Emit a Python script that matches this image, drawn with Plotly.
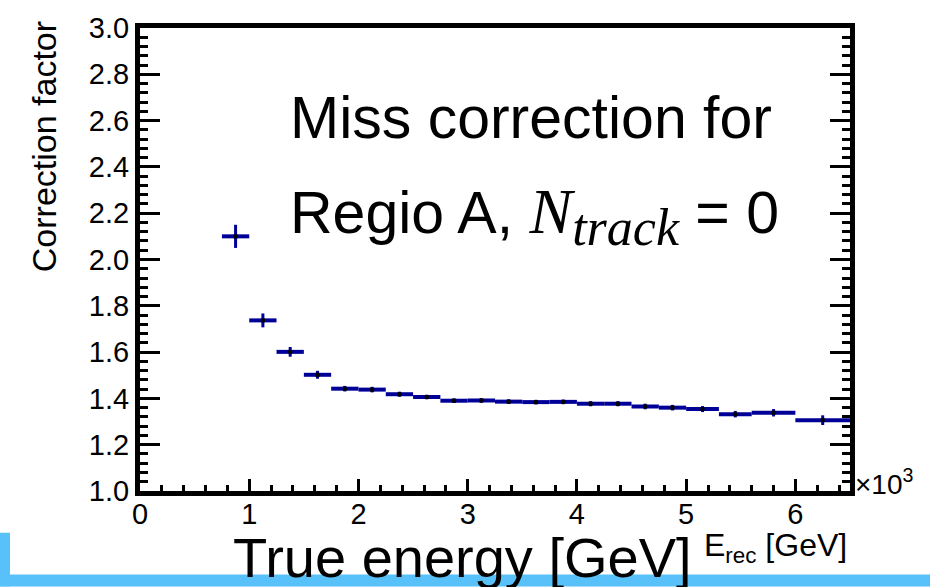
import plotly.graph_objects as go

# Reconstructed-energy bins (units of 10^3 GeV) and the fitted correction factor per bin
bin_low = [0.75, 1.00, 1.25, 1.50, 1.75, 2.00, 2.25, 2.50, 2.75, 3.00, 3.25,
           3.50, 3.75, 4.00, 4.25, 4.50, 4.75, 5.00, 5.30, 5.60, 6.00]
bin_high = [1.00, 1.25, 1.50, 1.75, 2.00, 2.25, 2.50, 2.75, 3.00, 3.25, 3.50,
            3.75, 4.00, 4.25, 4.50, 4.75, 5.00, 5.30, 5.60, 6.00, 6.50]
correction = [2.100, 1.737, 1.601, 1.502, 1.442, 1.438, 1.418, 1.406, 1.390,
              1.391, 1.386, 1.384, 1.385, 1.377, 1.377, 1.365, 1.360, 1.354,
              1.332, 1.338, 1.306]
correction_err = [0.050, 0.030, 0.021, 0.017, 0.012, 0.012, 0.011, 0.010,
                  0.010, 0.010, 0.010, 0.010, 0.010, 0.011, 0.011, 0.012,
                  0.012, 0.013, 0.014, 0.016, 0.021]

x_ticks = [0, 1, 2, 3, 4, 5, 6]
x_tick_text = ["0", "1", "2", "3", "4", "5", "6"]

centers = [(a + b) / 2 for a, b in zip(bin_low, bin_high)]
half_widths = [(b - a) / 2 for a, b in zip(bin_low, bin_high)]

W, H = 930, 587
L, R, T, B = 140, 80, 25, 96

SANS = "Liberation Sans, Arial, Helvetica, sans-serif"
BLUE = "#000099"


def px_x(p):
    return (p - L) / (W - L - R)


def px_y(p):
    return (H - B - p) / (H - T - B)


fig = go.Figure()
fig.add_trace(go.Scatter(
    x=centers,
    y=correction,
    mode="markers",
    marker=dict(symbol="square", size=4, color="black"),
    error_x=dict(type="data", array=half_widths, symmetric=True,
                 color=BLUE, thickness=4, width=0),
    error_y=dict(type="data", array=correction_err, symmetric=True,
                 color=BLUE, thickness=3, width=0),
    showlegend=False,
    hoverinfo="x+y",
))

fig.update_xaxes(
    range=[0, 6.5],
    tickvals=x_ticks,
    ticktext=x_tick_text,
    ticks="inside",
    ticklen=12,
    tickwidth=3,
    tickcolor="black",
    minor=dict(dtick=0.2, ticks="inside", ticklen=6, tickwidth=3,
               tickcolor="black"),
    showline=True,
    linewidth=5,
    linecolor="black",
    mirror=True,
    showgrid=False,
    zeroline=False,
    ticklabelstandoff=-7,
    tickfont=dict(family=SANS, size=29, color="black"),
)
fig.update_yaxes(
    range=[1.0, 3.0],
    dtick=0.2,
    tick0=1.0,
    tickformat=".1f",
    ticks="inside",
    ticklen=20,
    tickwidth=3,
    tickcolor="black",
    minor=dict(dtick=0.04, ticks="inside", ticklen=8, tickwidth=3,
               tickcolor="black"),
    showline=True,
    linewidth=5,
    linecolor="black",
    mirror="allticks",
    showgrid=False,
    zeroline=False,
    tickfont=dict(family=SANS, size=29, color="black"),
)

annotations = [
    # y-axis title, aligned to the top of the axis
    dict(text="Correction factor", x=px_x(44), y=px_y(145), textangle=-90,
         xanchor="center", yanchor="middle",
         font=dict(family=SANS, size=34, color="black")),
    # axis exponent
    dict(text="\u00d710<sup>3</sup>", x=px_x(853), y=px_y(482),
         xanchor="left", yanchor="middle",
         font=dict(family=SANS, size=28, color="black")),
    # axis label below the frame
    dict(text="E<sub>rec</sub> [GeV]", x=px_x(849), y=px_y(548),
         xanchor="right", yanchor="middle",
         font=dict(family=SANS, size=32, color="black")),
    # large title text
    dict(text="Miss correction for", x=px_x(288), y=px_y(116),
         xanchor="left", yanchor="middle",
         font=dict(family=SANS, size=59, color="black")),
    dict(text=("Regio A, "
               "<span style='font-family:Liberation Serif;font-style:italic;"
               "font-size:64px'>N</span>"
               "<sub><span style='font-family:Liberation Serif;font-style:italic;"
               "font-size:52px'>track</span></sub> = 0"),
         x=px_x(288), y=px_y(214),
         xanchor="left", yanchor="middle",
         font=dict(family=SANS, size=59, color="black")),
    dict(text="True energy [GeV]", x=px_x(462), y=px_y(558),
         xanchor="center", yanchor="middle",
         font=dict(family=SANS, size=56, color="black")),
]
for a in annotations:
    a.update(xref="paper", yref="paper", showarrow=False)

shapes = [
    dict(type="rect", xref="paper", yref="paper",
         x0=px_x(0), x1=px_x(930), y0=px_y(587), y1=px_y(575),
         fillcolor="#59C1FA", line=dict(width=0), layer="above"),
    dict(type="rect", xref="paper", yref="paper",
         x0=px_x(0), x1=px_x(10), y0=px_y(587), y1=px_y(533),
         fillcolor="#59C1FA", line=dict(width=0), layer="above"),
]

fig.update_layout(
    width=W,
    height=H,
    margin=dict(l=L, r=R, t=T, b=B, pad=0),
    paper_bgcolor="white",
    plot_bgcolor="white",
    annotations=annotations,
    shapes=shapes,
    showlegend=False,
)

fig.write_html("out.html")
